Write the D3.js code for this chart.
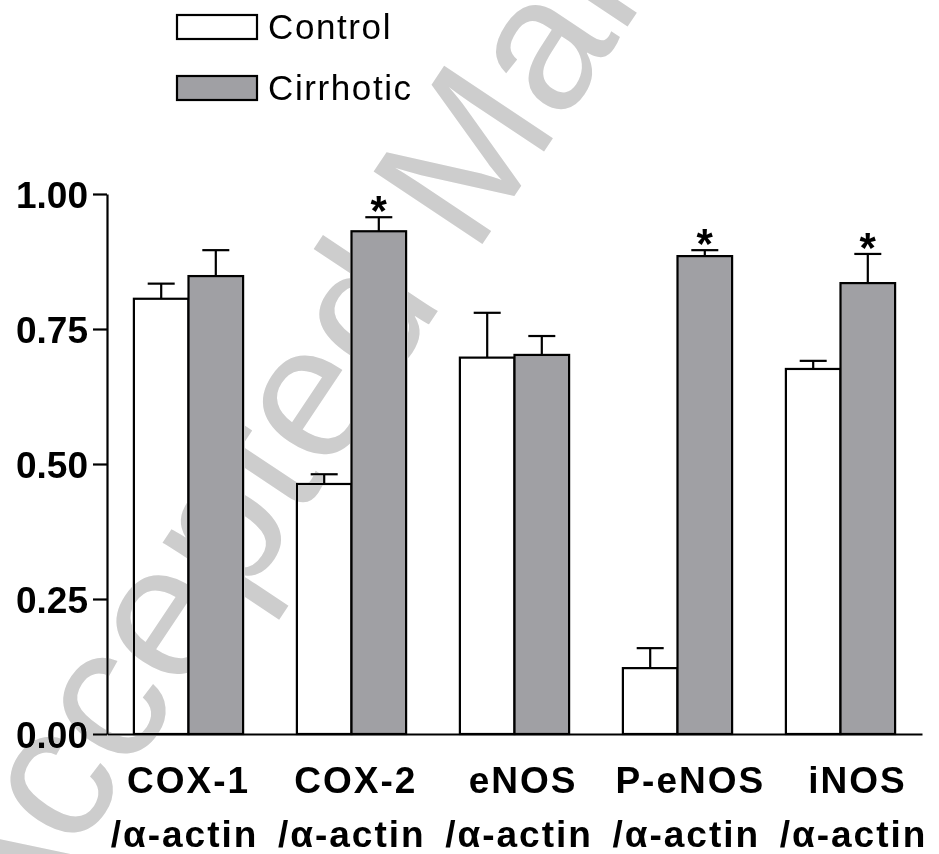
<!DOCTYPE html>
<html>
<head>
<meta charset="utf-8">
<script src="https://cdn.jsdelivr.net/npm/d3@7"></script>
<style>
    html, body { margin: 0; padding: 0; background: #fff; }
    svg { display: block; }
    .tick-label { font-family: "Liberation Sans", Arial, sans-serif; font-weight: bold; font-size: 37px; }
    .cat-label { font-family: "Liberation Sans", Arial, sans-serif; font-weight: bold; font-size: 37px; letter-spacing: 2px; }
    .legend-label { font-family: "Liberation Sans", Arial, sans-serif; font-size: 35px; letter-spacing: 1.6px; }
</style>
</head>
<body>
<svg id="chart" width="939" height="854"></svg>
<script>
// values (ratio to alpha-actin)
const categories = ["COX-1", "COX-2", "eNOS", "P-eNOS", "iNOS"];
const control = [0.806, 0.463, 0.697, 0.122, 0.676];
const controlErr = [0.028, 0.018, 0.083, 0.037, 0.015];
const cirrhotic = [0.848, 0.931, 0.702, 0.885, 0.835];
const cirrhoticErr = [0.048, 0.026, 0.035, 0.011, 0.054];
const significant = [false, true, false, true, true];
const yTicks = [0, 0.25, 0.5, 0.75, 1];
const seriesNames = ["Control", "Cirrhotic"];

const colors = { Control: "#ffffff", Cirrhotic: "#a0a0a4" };

let svg = d3.select("#chart");
let margin = { top: 194, right: 17, bottom: 120, left: 107 };
let width = +svg.attr("width") - margin.left - margin.right;
let height = +svg.attr("height") - margin.top - margin.bottom;

let x = d3.scaleBand()
    .domain(categories)
    .range([0, width])
    .paddingInner(0.33)
    .paddingOuter(0.165);

let x1 = d3.scaleBand()
    .domain(seriesNames)
    .range([0, x.bandwidth()]);

let y = d3.scaleLinear()
    .domain([0, 1])
    .range([height, 0]);

let g = svg.append("g")
    .attr("transform", "translate(" + margin.left + "," + margin.top + ")");

// rows for bars
let rows = [];
categories.forEach((c, i) => {
    rows.push({ cat: c, series: "Control", value: control[i], err: controlErr[i], sig: false });
    rows.push({ cat: c, series: "Cirrhotic", value: cirrhotic[i], err: cirrhoticErr[i], sig: significant[i] });
});

let cx = d => x(d.cat) + x1(d.series) + x1.bandwidth() / 2;

g.selectAll(".bar")
    .data(rows)
    .enter()
    .append("rect")
    .attr("class", "bar")
    .attr("x", d => x(d.cat) + x1(d.series))
    .attr("y", d => y(d.value))
    .attr("width", x1.bandwidth())
    .attr("height", d => height - y(d.value))
    .attr("fill", d => colors[d.series])
    .attr("stroke", "#000")
    .attr("stroke-width", 2.2);

// error bars (upper only)
let capHalf = 13.5;
let errs = g.selectAll(".err")
    .data(rows)
    .enter()
    .append("g")
    .attr("class", "err")
    .attr("stroke", "#000")
    .attr("stroke-width", 2.2);

errs.append("line")
    .attr("x1", cx)
    .attr("x2", cx)
    .attr("y1", d => y(d.value))
    .attr("y2", d => y(d.value + d.err));

errs.append("line")
    .attr("x1", d => cx(d) - capHalf)
    .attr("x2", d => cx(d) + capHalf)
    .attr("y1", d => y(d.value + d.err))
    .attr("y2", d => y(d.value + d.err));

// significance stars
g.selectAll(".star")
    .data(rows.filter(d => d.sig))
    .enter()
    .append("text")
    .attr("class", "star")
    .attr("x", cx)
    .attr("y", d => y(d.value + d.err) + 8)
    .attr("text-anchor", "middle")
    .attr("font-family", "Liberation Sans, Arial, sans-serif")
    .attr("font-weight", "bold")
    .attr("font-size", 42)
    .text("*");

// y axis
let yAxis = g.append("g")
    .call(d3.axisLeft(y).tickValues(yTicks).tickFormat(d3.format(".2f")).tickSize(14).tickSizeOuter(0));
yAxis.select(".domain").attr("stroke-width", 2.2);
yAxis.selectAll(".tick line").attr("stroke-width", 2.2);
yAxis.selectAll(".tick text")
    .attr("class", "tick-label")
    .attr("x", -19)
    .attr("dy", "0.36em")
    .attr("font-size", null)
    .attr("font-family", null);

// x axis line
let xAxis = g.append("g")
    .attr("transform", "translate(0," + height + ")")
    .call(d3.axisBottom(x).tickSize(0).tickFormat(""));
xAxis.select(".domain").attr("stroke-width", 2.2);

// category labels, spaced a bit wider than the groups as in the figure
let labelX = d3.scalePoint()
    .domain(categories)
    .range([x(categories[0]) + x.bandwidth() / 2, x(categories[categories.length - 1]) + x.bandwidth() / 2 + 17]);

let labels = g.selectAll(".cat")
    .data(categories)
    .enter()
    .append("text")
    .attr("class", "cat-label")
    .attr("text-anchor", "middle")
    .attr("transform", d => "translate(" + labelX(d) + "," + (height + 59) + ")");
labels.append("tspan").attr("x", 0).attr("y", 0).text(d => d);
labels.append("tspan").attr("x", -4).attr("y", 54).text("/\u03b1-actin");

// legend
let legend = svg.append("g")
    .selectAll(".legend")
    .data(seriesNames)
    .enter()
    .append("g")
    .attr("transform", (d, i) => "translate(177," + (15 + i * 61) + ")");
legend.append("rect")
    .attr("width", 80)
    .attr("height", 24)
    .attr("fill", d => colors[d])
    .attr("stroke", "#000")
    .attr("stroke-width", 2.2);
legend.append("text")
    .attr("class", "legend-label")
    .attr("x", 91)
    .attr("y", 24)
    .text(d => d);

// watermark
svg.append("text")
    .attr("transform", "translate(5,960) rotate(-56.3)")
    .attr("font-family", "Liberation Sans, Arial, sans-serif")
    .attr("font-size", 190)
    .attr("fill", "#cdcdcd")
    .style("mix-blend-mode", "darken")
    .text("Accepted Manuscript");
</script>
</body>
</html>
